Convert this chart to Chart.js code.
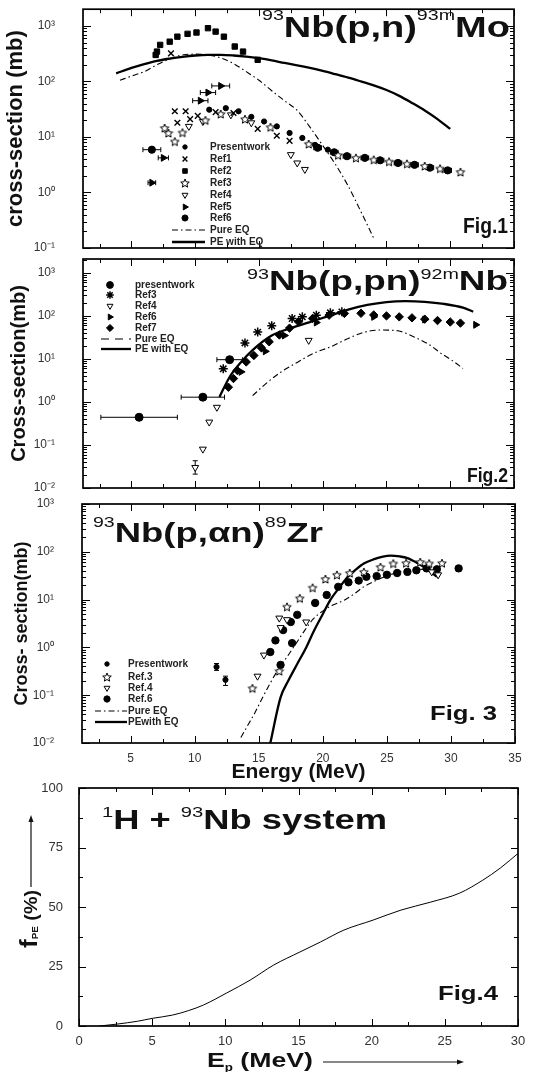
<!DOCTYPE html>
<html lang="en">
<head>
<meta charset="UTF-8" />
<title>93Nb proton induced reactions</title>
<style>
  body { margin: 0; background: #fff; }
  #wrap { position: relative; width: 544px; height: 1072px; overflow: hidden; }
  #wrap canvas { position: absolute; left: 0; top: 0; }
  #wrap #fig1 { top: -26px; }
</style>
<script src="https://cdn.jsdelivr.net/npm/chart.js"></script>
</head>
<body>
<div id="wrap">
  <canvas id="fig1" width="544" height="1072"></canvas>
  <canvas id="fig2" width="544" height="1072"></canvas>
  <canvas id="fig3" width="544" height="1072"></canvas>
  <canvas id="fig4" width="544" height="1072"></canvas>
</div>
<script>
// ---- data: [E (MeV), cross-section (mb)] ----
// Fig.1  93Nb(p,n)93mMo
const fig1Present = [[11.1,31],[12.4,33],[13.4,29],[14.4,23],[15.4,19],[16.4,15.5],[17.4,11.8],[18.4,9.6],[19.4,7.2],[20.4,5.9]];
const fig1Ref1 = [[8.1,320],[8.4,29],[9.25,29],[8.6,18],[9.6,21],[10.2,24],[11.6,28],[13.0,27],[14.9,14],[16.4,10.5],[17.4,8.5]];
const fig1Ref2 = [[6.9,300],[7.0,345],[7.25,455],[8.0,520],[8.6,640],[9.4,720],[10.1,760],[11.0,910],[11.6,790],[12.25,640],[13.1,425],[13.75,345],[14.9,245]];
const fig1Ref3 = [[7.6,14.5],[7.9,11.8],[8.4,8.3],[9.0,12],[10.8,20],[12.0,26],[13.9,21],[15.9,15],[18.9,7.5],[21.2,4.7],[22.6,4.2],[24.0,3.9],[25.2,3.6],[26.6,3.3],[28.0,3.0],[29.2,2.7],[30.8,2.35]];
const fig1Ref4 = [[9.5,15.5],[10.6,19],[12.8,25],[14.4,18],[17.5,4.8],[18.0,3.4],[18.6,2.6]];
const fig1Ref5 = [[6.6,1.5],[7.5,4.2],[10.4,45],[11.0,63],[12.0,83]];
const fig1Ref5Xerr = [0.3,0.4,0.6,0.6,0.7];
const fig1Ref6 = [[6.6,5.9],[19.6,6.4],[20.9,5.3],[21.9,4.5],[23.3,4.2],[24.5,3.8],[25.9,3.4],[27.2,3.15],[28.4,2.8],[29.8,2.5]];
const fig1Ref6Xerr = [0.7,0.3,0.3,0.3,0.3,0.3,0.3,0.3,0.3,0.3];
const fig1PureEQ = [[4.1,105],[5,125],[6,150],[7,200],[8,255],[9,300],[10,310],[11,300],[12,265],[13,210],[14,150],[15,105],[16,68],[17,45],[18,30],[19,15],[20,7],[21,3.2],[22,1.3],[23,0.45],[24,0.15]];
const fig1PEwithEQ = [[3.8,140],[5,175],[6,205],[7,235],[8,258],[9,278],[10,293],[11,300],[12,300],[13,293],[14,280],[15,262],[16,240],[17,215],[18,195],[19,175],[20,155],[21,135],[22,117],[23,100],[24,85],[25,70],[26,55],[27,41],[28,30],[29,21],[30,14]];

// Fig.2  93Nb(p,pn)92mNb
const fig2Present = [[5.6,0.44],[10.6,1.29],[12.7,9.6]];
const fig2PresentXerr = [3.0,1.7,1.0];
const fig2Ref3 = [[12.2,5.9],[13.9,23.5],[14.9,42],[16.0,59],[17.6,87],[18.4,95],[19.5,104],[20.6,118],[21.5,124]];
const fig2Ref4 = [[10.0,0.030],[10.6,0.080],[11.1,0.34],[11.7,0.75],[18.9,27]];
const fig2Ref4Yerr = [[0.021,0.043],null,null,null,null];
const fig2Ref6 = [[13.6,5],[15.5,15],[17.0,35],[19.5,70],[24.0,95],[28.0,82],[32.0,62]];
const fig2Ref7 = [[12.6,2.2],[13.0,3.5],[13.3,5.4],[14.0,8.5],[14.6,12],[15.2,18],[15.8,25],[16.6,36],[17.4,52],[18.1,73],[19.2,87],[20.5,104],[21.7,114],[23.0,115],[24.0,105],[25.0,100],[26.0,95],[27.0,90],[28.0,84],[29.0,78],[30.0,72],[30.8,68]];
const fig2PureEQ = [[14.5,1.4],[15.5,2.6],[16.7,4.9],[18.0,8.3],[19.4,14],[20.6,19],[22.0,30],[23.3,42],[24.5,47],[25.9,45],[27.2,32],[28.4,21],[29.2,14],[30.2,9],[31.0,6]];
const fig2PEwithEQ = [[11.9,1.3],[12.7,3.8],[13.5,7.8],[14.5,16],[16.0,35],[17.5,52],[19.0,72],[20.5,100],[22.0,140],[23.5,180],[25.0,210],[26.5,220],[28.0,212],[29.5,190],[31.0,155],[31.8,125]];

// Fig.3  93Nb(p,an)89Zr
const fig3Present = [[11.7,0.39],[12.4,0.21]];
const fig3PresentYerr = [[0.33,0.46],[0.16,0.25]];
const fig3Ref3 = [[14.5,0.14],[16.6,0.32],[17.2,7.1],[18.2,10.7],[19.2,17.8],[20.2,27],[21.1,33],[22.1,36],[23.2,38],[24.5,48],[25.5,57],[26.5,58],[27.6,61],[28.3,57],[29.3,58]];
const fig3Ref4 = [[14.9,0.25],[15.4,0.69],[16.6,4.1],[16.7,2.6],[17.2,3.8],[18.7,3.4],[28.5,38],[29.0,33]];
const fig3Ref6 = [[15.9,0.8],[16.7,0.43],[16.3,1.4],[16.9,2.3],[17.5,3.4],[18.0,4.8],[17.6,1.23],[19.4,8.5],[20.3,12.5],[21.2,18.5],[22.0,23],[22.8,25],[23.4,30],[24.2,31],[25.0,33],[25.8,36],[26.6,38],[27.3,41],[28.1,45],[28.9,43],[30.6,45]];
const fig3PureEQ = [[13.6,0.013],[14.2,0.025],[14.7,0.043],[15.3,0.09],[15.9,0.18],[16.5,0.34],[17.2,0.63],[17.9,1.2],[18.6,2.3],[19.2,3.8],[19.8,5.3],[20.7,7.5],[21.7,9.8],[22.5,13.5],[23.2,18.6],[24.0,24],[24.8,30],[25.7,36],[26.6,41],[27.5,43],[28.3,41],[28.9,30]];
const fig3PEwithEQ = [[15.9,0.01],[16.7,0.09],[17.3,0.2],[18.0,0.45],[18.7,1.0],[19.3,2.2],[20.0,5],[20.6,10],[21.3,18],[21.9,29],[22.6,43],[23.2,57],[24.0,70],[24.6,78],[25.3,83],[26.0,80],[26.6,74],[27.3,60],[27.9,48],[28.4,38],[28.9,30]];

// Fig.4  fraction of pre-equilibrium, 1H + 93Nb
const fig4Ep = [1.4,2.6,4,5,6.4,7.5,8.5,10.1,11.7,13.3,15.1,16.5,18.1,20.1,22,24,26,27.6,28.8,30];
const fig4Fpe = [0,0.8,2,3.2,4.6,6.5,8.8,13.9,19.3,25.6,31.1,35.3,40.3,44.5,48.7,52,55.8,61.3,66.4,72.5];

// ---- helpers ----
const F = '"Liberation Sans", Arial, sans-serif';
Chart.defaults.font.family = F;
Chart.defaults.color = '#333';

const pts = arr => arr.map(p => ({ x: p[0], y: p[1] }));

function openStar(r) {
  const c = document.createElement('canvas');
  const s = Math.ceil(2 * r + 3);
  c.width = c.height = s;
  const g = c.getContext('2d');
  g.translate(s / 2, s / 2 + 0.5);
  g.beginPath();
  for (let k = 0; k < 10; k++) {
    const rr = k % 2 ? r * 0.45 : r;
    const a = -Math.PI / 2 + k * Math.PI / 5;
    g.lineTo(rr * Math.cos(a), rr * Math.sin(a));
  }
  g.closePath();
  g.fillStyle = '#fff'; g.fill();
  g.strokeStyle = '#000'; g.lineWidth = 1; g.stroke();
  return c;
}
const starImg = openStar(4.5);

const SUP = { '-': '\u207B', '0': '\u2070', '1': '\u00B9', '2': '\u00B2', '3': '\u00B3' };
const decadeLabel = v => '10' + String(Math.round(Math.log10(v))).split('').map(c => SUP[c]).join('');

function linTicks(start, end, step, len) {
  const out = [];
  for (let v = start; v <= end + 1e-9; v += step) out.push([v, len]);
  return out;
}
function logTicks(min, max) {
  const out = [];
  for (let e = Math.floor(Math.log10(min)); e <= Math.ceil(Math.log10(max)); e++) {
    for (let k = 1; k <= 9; k++) {
      const v = k * Math.pow(10, e);
      if (v >= min * 0.999 && v <= max * 1.001) out.push([v, k === 1 ? 8 : 4]);
    }
  }
  return out;
}

function marks(label, arr, ps, r, fill, extra) {
  return Object.assign({
    label, data: pts(arr), pointStyle: ps, pointRadius: r,
    backgroundColor: fill, borderColor: '#000', pointBorderWidth: 1, showLine: false
  }, extra || {});
}
function curve(label, arr, width, dash) {
  return {
    label, data: pts(arr), showLine: true, pointRadius: 0, fill: false,
    borderColor: '#000', borderWidth: width, borderDash: dash || [],
    cubicInterpolationMode: 'monotone'
  };
}

function drawRich(ctx, parts, x0, base, targetW) {
  let w = 0;
  parts.forEach(p => { ctx.font = p.font; w += ctx.measureText(p.t).width; });
  const k = targetW ? targetW / w : 1;
  ctx.save();
  ctx.translate(x0, base);
  ctx.scale(k, 1);
  ctx.textAlign = 'left';
  ctx.textBaseline = 'alphabetic';
  let cx = 0;
  parts.forEach(p => {
    ctx.font = p.font;
    ctx.fillText(p.t, cx, p.dy || 0);
    cx += ctx.measureText(p.t).width;
  });
  ctx.restore();
}

function arrow(ctx, x1, y1, x2, y2) {
  const a = Math.atan2(y2 - y1, x2 - x1);
  ctx.beginPath(); ctx.moveTo(x1, y1); ctx.lineTo(x2, y2); ctx.stroke();
  ctx.beginPath();
  ctx.moveTo(x2 + 3 * Math.cos(a), y2 + 3 * Math.sin(a));
  ctx.lineTo(x2 - 4 * Math.cos(a) + 2.5 * Math.sin(a), y2 - 4 * Math.sin(a) - 2.5 * Math.cos(a));
  ctx.lineTo(x2 - 4 * Math.cos(a) - 2.5 * Math.sin(a), y2 - 4 * Math.sin(a) + 2.5 * Math.cos(a));
  ctx.closePath(); ctx.fill();
}

function drawErrors(chart) {
  const { ctx } = chart;
  const xs = chart.scales.x, ys = chart.scales.y;
  ctx.save();
  ctx.strokeStyle = '#000'; ctx.lineWidth = 1;
  ctx.beginPath();
  chart.data.datasets.forEach(ds => {
    ds.data.forEach((p, j) => {
      const px = xs.getPixelForValue(p.x), py = ys.getPixelForValue(p.y);
      const xe = ds.xErr && ds.xErr[j];
      if (xe) {
        const x1 = xs.getPixelForValue(p.x - xe), x2 = xs.getPixelForValue(p.x + xe);
        ctx.moveTo(x1, py); ctx.lineTo(x2, py);
        ctx.moveTo(x1, py - 2.5); ctx.lineTo(x1, py + 2.5);
        ctx.moveTo(x2, py - 2.5); ctx.lineTo(x2, py + 2.5);
      }
      const ye = ds.yErr && ds.yErr[j];
      if (ye) {
        const y1 = ys.getPixelForValue(ye[0]), y2 = ys.getPixelForValue(ye[1]);
        ctx.moveTo(px, y1); ctx.lineTo(px, y2);
        ctx.moveTo(px - 2.5, y1); ctx.lineTo(px + 2.5, y1);
        ctx.moveTo(px - 2.5, y2); ctx.lineTo(px + 2.5, y2);
      }
    });
  });
  ctx.stroke();
  ctx.restore();
}

function drawLegend(chart, lg) {
  const ctx = chart.ctx;
  const dy = lg.dy || 0;
  chart.data.datasets.forEach((ds, i) => {
    const y = lg.rows[i] + dy;
    ctx.save();
    ctx.fillStyle = '#000'; ctx.strokeStyle = '#000';
    if (ds.showLine) {
      ctx.lineWidth = ds.borderWidth;
      ctx.setLineDash(ds.borderDash.length ? (lg.dash || ds.borderDash) : []);
      ctx.beginPath(); ctx.moveTo(lg.lx1, y); ctx.lineTo(lg.lx2, y); ctx.stroke();
    } else if (Chart.helpers && Chart.helpers.drawPoint) {
      ctx.fillStyle = ds.backgroundColor; ctx.lineWidth = ds.pointBorderWidth;
      Chart.helpers.drawPoint(ctx, {
        pointStyle: ds.pointStyle, rotation: ds.pointRotation || 0,
        radius: ds.pointRadius * 0.85, borderWidth: ds.pointBorderWidth
      }, lg.mx, y);
    } else {
      ctx.beginPath(); ctx.arc(lg.mx, y, 3, 0, Math.PI * 2); ctx.fill();
    }
    ctx.restore();
    ctx.fillStyle = '#222';
    ctx.font = 'bold 10px ' + F;
    ctx.textAlign = 'left'; ctx.textBaseline = 'middle';
    ctx.fillText(ds.label, lg.tx, y + 0.5);
  });
}

// spec.dy: offset between page y and canvas y (canvas shifted on page)
function makeFrame(spec) {
  return {
    id: 'frame',
    beforeDatasetsDraw(chart) { drawErrors(chart); },
    afterDatasetsDraw(chart) {
      const { ctx, chartArea: a } = chart;
      const xs = chart.scales.x, ys = chart.scales.y;
      ctx.save();
      ctx.strokeStyle = '#000';
      ctx.lineWidth = 1;
      ctx.beginPath();
      spec.xTicks.forEach(([v, len]) => {
        const px = Math.round(xs.getPixelForValue(v)) + 0.5;
        ctx.moveTo(px, a.bottom); ctx.lineTo(px, a.bottom - len);
        ctx.moveTo(px, a.top); ctx.lineTo(px, a.top + len);
      });
      spec.yTicks.forEach(([v, len]) => {
        const py = Math.round(ys.getPixelForValue(v)) + 0.5;
        ctx.moveTo(a.left, py); ctx.lineTo(a.left + len, py);
        ctx.moveTo(a.right, py); ctx.lineTo(a.right - len, py);
      });
      ctx.stroke();
      ctx.lineWidth = 1.7;
      ctx.strokeRect(a.left, a.top, a.right - a.left, a.bottom - a.top);
      if (spec.legend) drawLegend(chart, Object.assign({ dy: spec.dy || 0 }, spec.legend));
      ctx.translate(0, spec.dy || 0);
      ctx.fillStyle = '#111'; ctx.strokeStyle = '#111';
      spec.texts(ctx);
      ctx.restore();
    }
  };
}

function logY(min, max, left, title, size, pad) {
  const decades = logTicks(min, max).filter(t => t[1] === 8).map(t => t[0]);
  return {
    type: 'logarithmic', min, max, bounds: 'data',
    grid: { display: false, drawTicks: false }, border: { display: false },
    ticks: { padding: 28, color: '#333', font: { size: 12 }, autoSkip: false, callback: v => decadeLabel(v) },
    afterBuildTicks: s => { s.ticks = decades.map(v => ({ value: v })); },
    afterFit: s => { s.width = left; },
    title: { display: true, text: title, color: '#111', font: { size, weight: 'bold', lineHeight: 1 }, padding: { top: pad, bottom: 0 } }
  };
}
function energyX(show) {
  return {
    type: 'linear', min: 1.2, max: 35, display: show, bounds: 'data',
    grid: { display: false, drawTicks: false }, border: { display: false },
    ticks: { padding: 8, color: '#333', font: { size: 12 }, autoSkip: false, maxRotation: 0 },
    afterBuildTicks: s => { s.ticks = [5, 10, 15, 20, 25, 30, 35].map(v => ({ value: v })); },
    afterFit: s => { s.height = show ? 40 : 0; },
    title: { display: show, text: 'Energy (MeV)', color: '#111', font: { size: 21, weight: 'bold', lineHeight: 1 }, padding: { top: 0, bottom: 0 } }
  };
}

const energyTicks = linTicks(2.5, 32.5, 5, 4).concat(linTicks(5, 35, 5, 7));
const baseOpts = { responsive: false, animation: false, devicePixelRatio: 1, events: [] };
const noPlugins = { legend: { display: false }, tooltip: { enabled: false } };

const sup = s => s + 'px ' + F;
const bold = s => 'bold ' + s + 'px ' + F;

// ---- Fig.1 (canvas shifted 26px up on the page) ----
new Chart(document.getElementById('fig1'), {
  type: 'scatter',
  data: { datasets: [
    marks('Presentwork', fig1Present, 'circle', 2.6, '#000'),
    marks('Ref1', fig1Ref1, 'crossRot', 4, '#000', { pointBorderWidth: 1.4 }),
    marks('Ref2', fig1Ref2, 'rect', 3.8, '#000'),
    marks('Ref3', fig1Ref3, starImg, 4, '#fff'),
    marks('Ref4', fig1Ref4, 'triangle', 4, '#fff', { pointRotation: 180 }),
    marks('Ref5', fig1Ref5, 'triangle', 4, '#000', { pointRotation: 90, xErr: fig1Ref5Xerr }),
    marks('Ref6', fig1Ref6, 'circle', 3.6, '#000', { xErr: fig1Ref6Xerr }),
    curve('Pure EQ', fig1PureEQ, 1.1, [6, 3, 1.5, 3]),
    curve('PE with EQ', fig1PEwithEQ, 2.3)
  ] },
  options: Object.assign({}, baseOpts, {
    layout: { padding: { left: 0, top: 35, right: 30, bottom: 798 } },
    scales: { x: energyX(false), y: logY(0.1, 2000, 83, 'cross-section (mb)', 22, 5) },
    plugins: noPlugins
  }),
  plugins: [makeFrame({
    dy: 26,
    xTicks: energyTicks, yTicks: logTicks(0.1, 2000),
    legend: { mx: 185, tx: 210, lx1: 172, lx2: 205, rows: [147, 159, 171, 183, 195, 207, 218, 230, 242] },
    texts: ctx => {
      drawRich(ctx, [{ t: '93', font: sup(15), dy: -17 }, { t: 'Nb(p,n)', font: bold(29) },
        { t: '93m', font: sup(15), dy: -17 }, { t: 'Mo', font: bold(29) }], 262, 37, 248);
      drawRich(ctx, [{ t: 'Fig.1', font: bold(22) }], 463, 233, 45);
    }
  })]
});

// ---- Fig.2 ----
new Chart(document.getElementById('fig2'), {
  type: 'scatter',
  data: { datasets: [
    marks('presentwork', fig2Present, 'circle', 4, '#000', { xErr: fig2PresentXerr }),
    marks('Ref3', fig2Ref3, 'star', 4.5, '#000', { pointBorderWidth: 1.5 }),
    marks('Ref4', fig2Ref4, 'triangle', 4, '#fff', { pointRotation: 180, yErr: fig2Ref4Yerr }),
    marks('Ref6', fig2Ref6, 'triangle', 4, '#000', { pointRotation: 90 }),
    marks('Ref7', fig2Ref7, 'rectRot', 4.2, '#000'),
    curve('Pure EQ', fig2PureEQ, 1.1, [6, 3, 1.5, 3]),
    curve('PE with EQ', fig2PEwithEQ, 2.3)
  ] },
  options: Object.assign({}, baseOpts, {
    layout: { padding: { left: 0, top: 259, right: 30, bottom: 584 } },
    scales: { x: energyX(false), y: logY(0.01, 2100, 83, 'Cross-section(mb)', 20, 9) },
    plugins: noPlugins
  }),
  plugins: [makeFrame({
    xTicks: energyTicks, yTicks: logTicks(0.01, 2100),
    legend: { mx: 110, tx: 135, lx1: 101, lx2: 131, dash: [8, 6], rows: [285, 295, 306, 317, 328, 339, 349] },
    texts: ctx => {
      drawRich(ctx, [{ t: '93', font: sup(15), dy: -11 }, { t: 'Nb(p,pn)', font: bold(28) },
        { t: '92m', font: sup(15), dy: -11 }, { t: 'Nb', font: bold(28) }], 247, 290, 261);
      drawRich(ctx, [{ t: 'Fig.2', font: bold(21) }], 467, 482, 41);
    }
  })]
});

// ---- Fig.3 ----
new Chart(document.getElementById('fig3'), {
  type: 'scatter',
  data: { datasets: [
    marks('Presentwork', fig3Present, 'circle', 2.6, '#000', { yErr: fig3PresentYerr }),
    marks('Ref.3', fig3Ref3, starImg, 4, '#fff'),
    marks('Ref.4', fig3Ref4, 'triangle', 4, '#fff', { pointRotation: 180 }),
    marks('Ref.6', fig3Ref6, 'circle', 3.7, '#000'),
    curve('Pure EQ', fig3PureEQ, 1.1, [6, 3, 1.5, 3]),
    curve('PEwith EQ', fig3PEwithEQ, 2.3)
  ] },
  options: Object.assign({}, baseOpts, {
    layout: { padding: { left: 0, top: 504, right: 29, bottom: 289 } },
    scales: { x: energyX(true), y: logY(0.01, 1000, 82, 'Cross- section(mb)', 18, 13) },
    plugins: noPlugins
  }),
  plugins: [makeFrame({
    xTicks: energyTicks, yTicks: logTicks(0.01, 1000),
    legend: { mx: 107, tx: 128, lx1: 95, lx2: 127, rows: [664, 677, 688, 699, 711, 722] },
    texts: ctx => {
      drawRich(ctx, [{ t: '93', font: sup(15), dy: -15 }, { t: 'Nb(p,\u03B1n)', font: bold(28) },
        { t: '89', font: sup(15), dy: -15 }, { t: 'Zr', font: bold(28) }], 93, 542, 230);
      drawRich(ctx, [{ t: 'Fig. 3', font: bold(21) }], 430, 720, 67);
    }
  })]
});

// ---- Fig.4 ----
new Chart(document.getElementById('fig4'), {
  type: 'scatter',
  data: { datasets: [{
    label: 'fPE', data: fig4Ep.map((e, i) => ({ x: e, y: fig4Fpe[i] })),
    showLine: true, pointRadius: 0, borderColor: '#000', borderWidth: 1, fill: false,
    cubicInterpolationMode: 'monotone'
  }] },
  options: Object.assign({}, baseOpts, {
    layout: { padding: { left: 0, top: 788, right: 26, bottom: 0 } },
    scales: {
      x: {
        type: 'linear', min: 0, max: 30, bounds: 'data',
        grid: { display: false, drawTicks: false }, border: { display: false },
        ticks: { padding: 8, color: '#333', font: { size: 13 }, autoSkip: false, maxRotation: 0 },
        afterBuildTicks: s => { s.ticks = [0, 5, 10, 15, 20, 25, 30].map(v => ({ value: v })); },
        afterFit: s => { s.height = 46; }
      },
      y: {
        type: 'linear', min: 0, max: 100, bounds: 'data',
        grid: { display: false, drawTicks: false }, border: { display: false },
        ticks: { padding: 16, color: '#333', font: { size: 13 }, autoSkip: false },
        afterBuildTicks: s => { s.ticks = [0, 25, 50, 75, 100].map(v => ({ value: v })); },
        afterFit: s => { s.width = 79; }
      }
    },
    plugins: noPlugins
  }),
  plugins: [makeFrame({
    xTicks: linTicks(2.5, 27.5, 5, 4).concat(linTicks(0, 30, 5, 7)),
    yTicks: linTicks(12.5, 87.5, 25, 4).concat(linTicks(0, 100, 25, 7)),
    texts: ctx => {
      drawRich(ctx, [{ t: '1', font: sup(15), dy: -12 }, { t: 'H + ', font: bold(27) },
        { t: '93', font: sup(15), dy: -12 }, { t: 'Nb system', font: bold(27) }], 102, 829, 285);
      drawRich(ctx, [{ t: 'Fig.4', font: bold(21) }], 438, 1000, 60);
      // y title, rotated, with arrow
      ctx.save();
      ctx.translate(37, 948);
      ctx.rotate(-Math.PI / 2);
      drawRich(ctx, [{ t: 'f', font: bold(24) }, { t: 'PE', font: bold(9), dy: 1 }, { t: ' (%)', font: bold(18) }], 0, 0, 58);
      ctx.restore();
      ctx.lineWidth = 1.2;
      arrow(ctx, 31, 887, 31, 818);
      // x title with arrow
      drawRich(ctx, [{ t: 'E', font: bold(20) }, { t: 'p', font: bold(10), dy: 4 }, { t: ' (MeV)', font: bold(20) }], 207, 1067, 106);
      arrow(ctx, 323, 1062, 461, 1062);
    }
  })]
});
</script>
</body>
</html>
